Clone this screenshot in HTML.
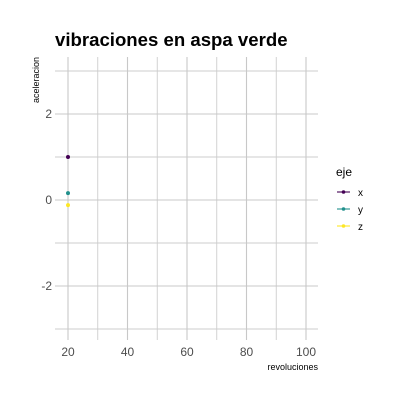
<!DOCTYPE html>
<html><head><meta charset="utf-8"><style>
body{margin:0;background:#fff;font-family:"Liberation Sans",sans-serif}
svg text{font-family:"Liberation Sans",sans-serif}
</style></head><body>
<svg width="400" height="400" id="c">
<text x="55" y="46" font-size="18.6" font-weight="bold" fill="#000">vibraciones en aspa verde</text>
<text x="318" y="370" font-size="9" text-anchor="end" fill="#000">revoluciones</text>
<text transform="translate(39,57) rotate(-90)" font-size="9" text-anchor="end" fill="#000">aceleracion</text>
<g id="grid"></g><g id="ticks"></g><g id="pts"></g>
<g>
<text x="336" y="176" font-size="12" fill="#000">eje</text>
<g id="leg"></g>
</g>
</svg>
<script>
const series=["x","y","z"];
const xs=[20,20,20];
const ys=[1,0.16,-0.12];
const colors=["#440154","#21908C","#FDE725"];
const xTicks=[20,40,60,80,100];
const yTicks=[-2,0,2];
const ns="http://www.w3.org/2000/svg";
const L=55,R=318,T=57,B=340;
const sx=v=>68+(v-20)*(306-68)/80;
const sy=v=>200-v*43;
function mk(t,a,p){const e=document.createElementNS(ns,t);for(const k in a)e.setAttribute(k,a[k]);p.appendChild(e);return e;}
const g=document.getElementById('grid'),tk=document.getElementById('ticks'),pg=document.getElementById('pts'),lg=document.getElementById('leg');
for(const v of [30,50,70,90]){const l=mk('line',{x1:sx(v),x2:sx(v),y1:T,y2:B,stroke:'#cdcdcd','stroke-width':0.9},g);
}
for(const v of [-3,-1,1,3]){const l=mk('line',{x1:L,x2:R,y1:sy(v),y2:sy(v),stroke:'#cdcdcd','stroke-width':0.9},g);
}
for(const v of xTicks){const l=mk('line',{x1:sx(v),x2:sx(v),y1:T,y2:B,stroke:'#c8c8c8','stroke-width':1.1},g);

const t=mk('text',{x:sx(v),y:356,'font-size':12,'text-anchor':'middle',fill:'#4d4d4d'},tk);t.textContent=v;
}
for(const v of yTicks){const l=mk('line',{x1:L,x2:R,y1:sy(v),y2:sy(v),stroke:'#c8c8c8','stroke-width':1.1},g);

const t=mk('text',{x:52,y:sy(v)+4,'font-size':12,'text-anchor':'end',fill:'#4d4d4d'},tk);t.textContent=v;
}
series.forEach((s,i)=>{
const c=mk('circle',{cx:sx(xs[i]),cy:sy(ys[i]),r:2,fill:colors[i]},pg);

const y=192+i*17;
const gg=mk('g',{},lg);

mk('line',{x1:337,x2:350,y1:y,y2:y,stroke:colors[i],'stroke-width':1.1},gg);
mk('circle',{cx:343.5,cy:y,r:1.8,fill:colors[i]},gg);
const t=mk('text',{x:358,y:y+4,'font-size':10,fill:'#000'},gg);t.textContent=s;});
</script>
</body></html>
